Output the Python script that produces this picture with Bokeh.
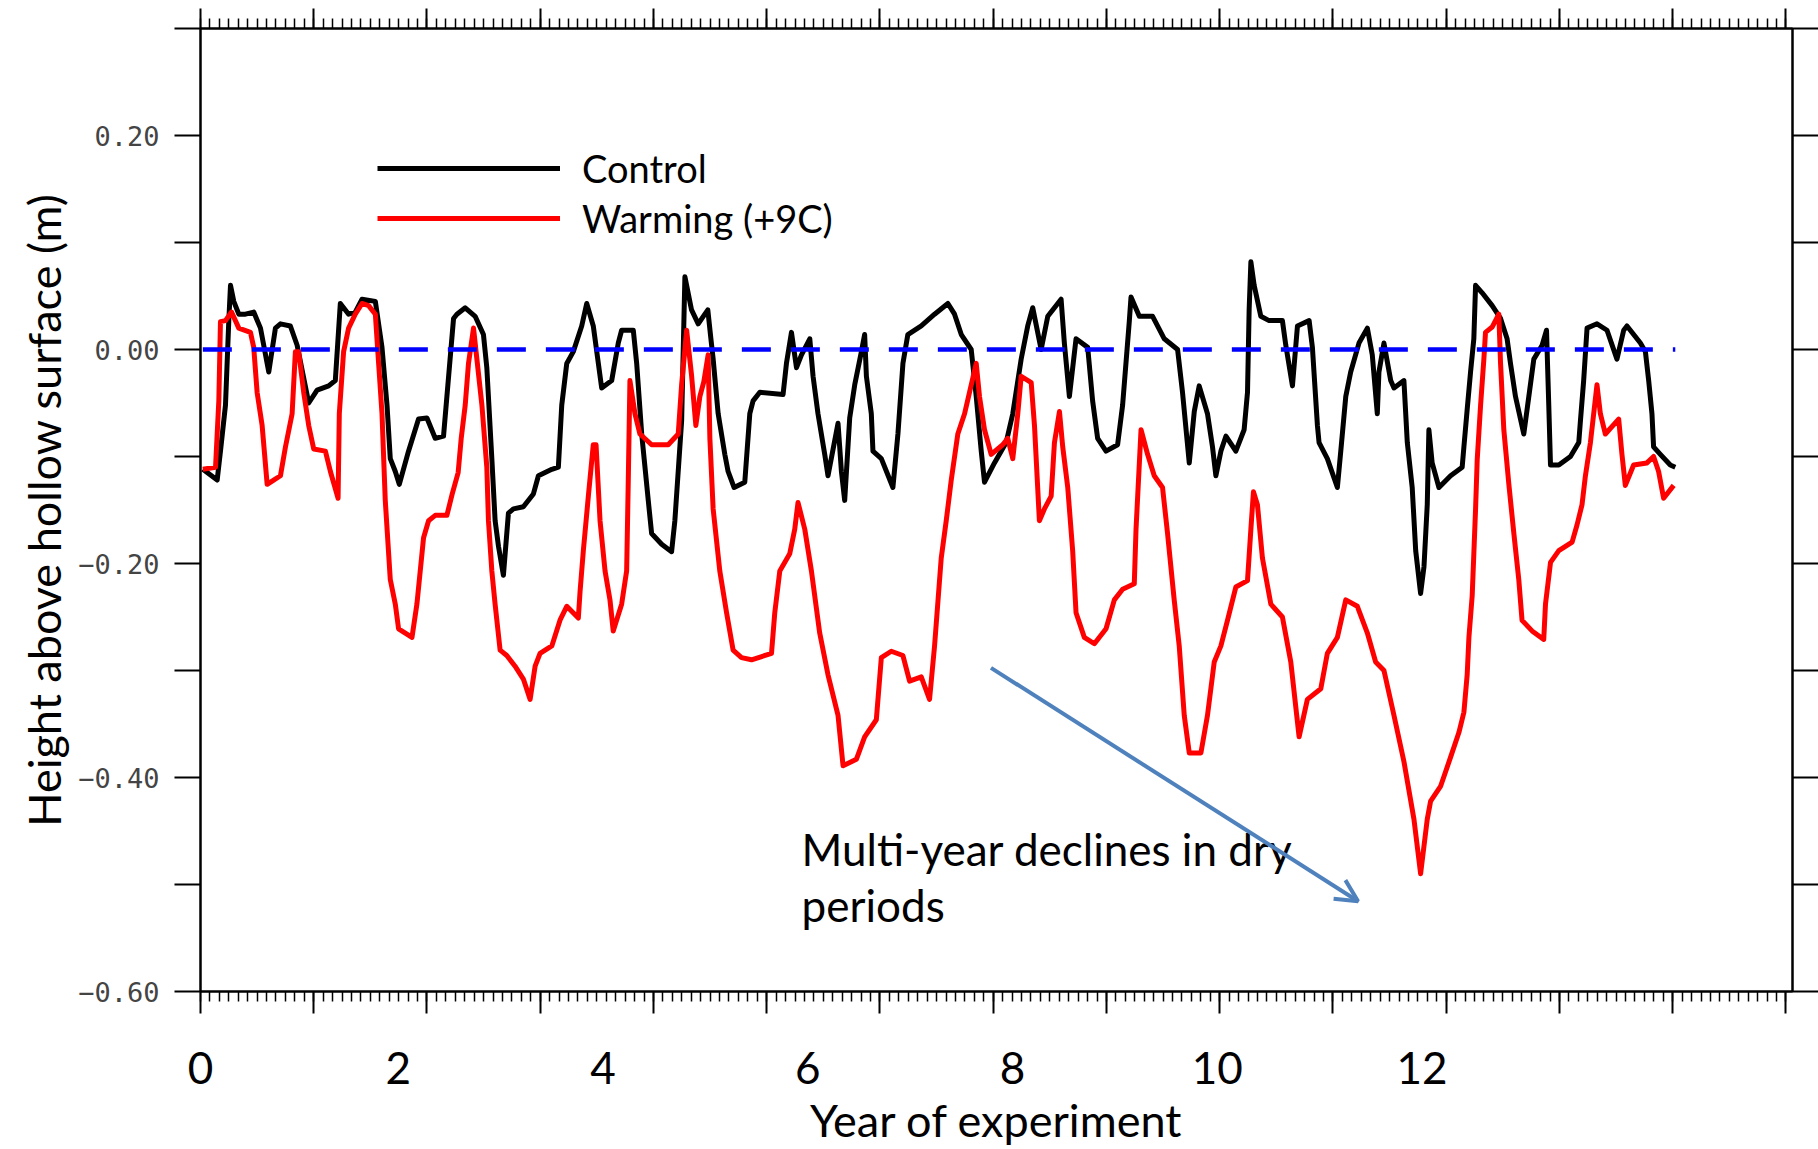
from bokeh.plotting import figure
from bokeh.models import (Range1d, FixedTicker, LinearAxis, Legend, LegendItem,
                          Label, Arrow, OpenHead, CustomJSTickFormatter,
                          CustomLabelingPolicy)
from bokeh.embed import file_html
from bokeh.resources import INLINE

# ---------------- data ----------------
control_year = [0.091, 0.231, 0.263, 0.312, 0.344, 0.361, 0.393, 0.442, 0.507, 0.588,
    0.654, 0.735, 0.800, 0.849, 0.946, 1.012, 1.125, 1.207, 1.320, 1.385,
    1.434, 1.515, 1.580, 1.646, 1.776, 1.841, 1.890, 1.922, 1.971, 2.010,
    2.100, 2.198, 2.280, 2.361, 2.442, 2.475, 2.540, 2.573, 2.654, 2.751,
    2.832, 2.865, 2.914, 2.946, 2.979, 3.027, 3.076, 3.125, 3.222, 3.320,
    3.369, 3.500, 3.564, 3.597, 3.646, 3.710, 3.792, 3.841, 3.905, 3.987,
    4.085, 4.149, 4.182, 4.296, 4.329, 4.378, 4.442, 4.475, 4.573, 4.670,
    4.702, 4.768, 4.800, 4.865, 4.930, 4.995, 5.024, 5.054, 5.076, 5.125,
    5.190, 5.222, 5.281, 5.385, 5.434, 5.466, 5.532, 5.759, 5.792, 5.841,
    5.890, 5.939, 6.020, 6.052, 6.100, 6.166, 6.198, 6.296, 6.329, 6.361,
    6.410, 6.459, 6.524, 6.556, 6.573, 6.621, 6.637, 6.719, 6.832, 6.881,
    6.930, 6.978, 7.109, 7.239, 7.369, 7.434, 7.500, 7.597, 7.646, 7.695,
    7.727, 7.824, 7.938, 8.003, 8.085, 8.149, 8.198, 8.280, 8.345, 8.475,
    8.507, 8.556, 8.621, 8.735, 8.783, 8.832, 8.914, 9.027, 9.076, 9.141,
    9.158, 9.239, 9.369, 9.483, 9.613, 9.661, 9.727, 9.776, 9.824, 9.905,
    9.954, 9.987, 10.036, 10.085, 10.182, 10.263, 10.296, 10.312, 10.329, 10.361,
    10.426, 10.507, 10.637, 10.670, 10.735, 10.784, 10.898, 10.930, 10.979, 10.995,
    11.076, 11.174, 11.207, 11.256, 11.304, 11.385, 11.467, 11.515, 11.564, 11.580,
    11.629, 11.695, 11.727, 11.824, 11.857, 11.905, 11.939, 11.987, 12.020, 12.052,
    12.068, 12.100, 12.166, 12.280, 12.393, 12.410, 12.442, 12.475, 12.507, 12.524,
    12.588, 12.686, 12.768, 12.832, 12.865, 12.914, 12.995, 13.044, 13.093, 13.174,
    13.217, 13.239, 13.256, 13.337, 13.451, 13.532, 13.548, 13.580, 13.613, 13.710,
    13.808, 13.905, 13.971, 14.003, 14.134, 14.183, 14.215, 14.247, 14.263, 14.329,
    14.426, 14.475]

control_height = [-0.112, -0.122, -0.095, -0.052, 0.026, 0.060, 0.045, 0.033, 0.033, 0.035,
    0.020, -0.021, 0.020, 0.024, 0.022, 0.004, -0.050, -0.038, -0.034, -0.029,
    0.043, 0.033, 0.035, 0.047, 0.045, 0.002, -0.052, -0.102, -0.114, -0.126,
    -0.095, -0.065, -0.064, -0.083, -0.081, -0.044, 0.029, 0.033, 0.039, 0.031,
    0.014, -0.017, -0.102, -0.160, -0.184, -0.211, -0.153, -0.149, -0.147, -0.135,
    -0.118, -0.112, -0.110, -0.052, -0.013, -0.002, 0.022, 0.043, 0.022, -0.036,
    -0.029, 0.006, 0.018, 0.018, -0.013, -0.079, -0.141, -0.172, -0.182, -0.189,
    -0.160, -0.067, 0.068, 0.037, 0.024, 0.033, 0.037, 0.010, -0.009, -0.060,
    -0.098, -0.114, -0.129, -0.124, -0.060, -0.048, -0.040, -0.042, -0.013, 0.016,
    -0.017, -0.005, 0.010, -0.025, -0.060, -0.098, -0.118, -0.069, -0.114, -0.141,
    -0.064, -0.033, -0.002, 0.014, -0.025, -0.060, -0.095, -0.102, -0.129, -0.079,
    -0.013, 0.014, 0.022, 0.033, 0.043, 0.033, 0.014, 0.000, -0.044, -0.095,
    -0.124, -0.106, -0.087, -0.060, -0.009, 0.022, 0.039, 0.000, 0.031, 0.047,
    0.006, -0.044, 0.010, 0.002, -0.048, -0.083, -0.095, -0.089, -0.052, 0.026,
    0.049, 0.031, 0.031, 0.010, 0.000, -0.040, -0.106, -0.058, -0.034, -0.060,
    -0.091, -0.118, -0.095, -0.081, -0.095, -0.075, -0.040, 0.037, 0.082, 0.060,
    0.031, 0.027, 0.027, 0.004, -0.034, 0.022, 0.027, 0.002, -0.071, -0.087,
    -0.102, -0.129, -0.095, -0.044, -0.021, 0.006, 0.020, -0.005, -0.060, -0.021,
    0.006, -0.029, -0.036, -0.029, -0.087, -0.129, -0.188, -0.228, -0.203, -0.145,
    -0.075, -0.106, -0.129, -0.118, -0.110, -0.091, -0.056, -0.021, 0.010, 0.060,
    0.053, 0.041, 0.029, 0.010, -0.013, -0.044, -0.079, -0.044, -0.009, 0.004,
    0.018, -0.052, -0.108, -0.108, -0.100, -0.087, -0.067, -0.029, 0.020, 0.024,
    0.018, -0.009, 0.018, 0.022, 0.006, -0.002, -0.029, -0.060, -0.091, -0.098,
    -0.108, -0.110]

warming_year = [0.091, 0.215, 0.247, 0.263, 0.312, 0.371, 0.442, 0.556, 0.588, 0.621,
    0.670, 0.719, 0.783, 0.849, 0.898, 0.963, 0.995, 1.027, 1.076, 1.125,
    1.174, 1.288, 1.337, 1.412, 1.424, 1.466, 1.515, 1.580, 1.646, 1.710,
    1.776, 1.808, 1.841, 1.873, 1.922, 1.971, 2.003, 2.134, 2.182, 2.247,
    2.296, 2.361, 2.475, 2.527, 2.585, 2.615, 2.654, 2.686, 2.735, 2.768,
    2.817, 2.865, 2.881, 2.914, 2.946, 2.995, 3.060, 3.141, 3.222, 3.288,
    3.337, 3.385, 3.500, 3.580, 3.646, 3.759, 3.776, 3.808, 3.857, 3.905,
    3.932, 3.971, 4.020, 4.068, 4.100, 4.182, 4.231, 4.247, 4.263, 4.312,
    4.361, 4.475, 4.637, 4.735, 4.768, 4.817, 4.865, 4.907, 4.946, 4.985,
    5.027, 5.044, 5.076, 5.141, 5.207, 5.271, 5.353, 5.451, 5.646, 5.678,
    5.727, 5.824, 5.873, 5.905, 5.971, 6.036, 6.117, 6.198, 6.296, 6.345,
    6.475, 6.556, 6.670, 6.719, 6.816, 6.930, 6.995, 7.109, 7.190, 7.239,
    7.304, 7.353, 7.402, 7.466, 7.532, 7.646, 7.678, 7.727, 7.792, 7.905,
    7.954, 8.003, 8.052, 8.085, 8.183, 8.215, 8.263, 8.312, 8.378, 8.410,
    8.459, 8.491, 8.540, 8.588, 8.621, 8.702, 8.800, 8.914, 8.995, 9.076,
    9.190, 9.207, 9.256, 9.320, 9.385, 9.466, 9.515, 9.580, 9.629, 9.678,
    9.727, 9.841, 9.905, 9.971, 10.036, 10.101, 10.182, 10.296, 10.329, 10.354,
    10.393, 10.442, 10.524, 10.637, 10.719, 10.800, 10.881, 11.012, 11.076, 11.174,
    11.256, 11.369, 11.467, 11.548, 11.629, 11.727, 11.824, 11.922, 11.987, 12.052,
    12.085, 12.183, 12.280, 12.361, 12.410, 12.442, 12.459, 12.491, 12.507, 12.524,
    12.540, 12.573, 12.605, 12.621, 12.686, 12.751, 12.768, 12.800, 12.849, 12.898,
    12.946, 12.978, 13.076, 13.190, 13.207, 13.256, 13.337, 13.467, 13.515, 13.564,
    13.597, 13.646, 13.710, 13.743, 13.792, 13.922, 13.954, 13.987, 14.068, 14.198,
    14.263, 14.312, 14.361, 14.459]

warming_height = [-0.112, -0.110, -0.048, 0.026, 0.027, 0.035, 0.020, 0.016, 0.002, -0.040,
    -0.071, -0.126, -0.122, -0.118, -0.091, -0.060, -0.002, -0.002, -0.040, -0.071,
    -0.093, -0.095, -0.114, -0.139, -0.060, -0.002, 0.020, 0.033, 0.043, 0.041,
    0.033, -0.013, -0.060, -0.141, -0.215, -0.238, -0.261, -0.269, -0.238, -0.176,
    -0.160, -0.155, -0.155, -0.135, -0.115, -0.083, -0.052, -0.013, 0.020, -0.009,
    -0.052, -0.110, -0.160, -0.207, -0.238, -0.281, -0.286, -0.296, -0.308, -0.327,
    -0.296, -0.284, -0.277, -0.253, -0.240, -0.251, -0.226, -0.188, -0.137, -0.089,
    -0.089, -0.160, -0.207, -0.234, -0.263, -0.238, -0.207, -0.122, -0.029, -0.060,
    -0.079, -0.089, -0.089, -0.079, -0.033, 0.018, -0.024, -0.071, -0.044, -0.030,
    -0.005, -0.083, -0.149, -0.207, -0.246, -0.281, -0.288, -0.290, -0.284, -0.246,
    -0.207, -0.191, -0.168, -0.143, -0.168, -0.207, -0.265, -0.304, -0.342, -0.389,
    -0.383, -0.362, -0.346, -0.288, -0.282, -0.286, -0.310, -0.306, -0.327, -0.277,
    -0.195, -0.160, -0.122, -0.079, -0.060, -0.013, -0.044, -0.075, -0.098, -0.089,
    -0.083, -0.102, -0.060, -0.025, -0.031, -0.071, -0.160, -0.149, -0.137, -0.087,
    -0.058, -0.091, -0.129, -0.188, -0.246, -0.269, -0.275, -0.261, -0.234, -0.224,
    -0.219, -0.168, -0.075, -0.098, -0.118, -0.129, -0.172, -0.234, -0.277, -0.342,
    -0.377, -0.377, -0.342, -0.292, -0.277, -0.253, -0.222, -0.216, -0.168, -0.133,
    -0.145, -0.195, -0.238, -0.250, -0.292, -0.362, -0.327, -0.317, -0.284, -0.269,
    -0.234, -0.240, -0.265, -0.292, -0.300, -0.342, -0.385, -0.439, -0.490, -0.439,
    -0.422, -0.408, -0.381, -0.358, -0.339, -0.304, -0.269, -0.230, -0.191, -0.149,
    -0.103, -0.052, -0.009, 0.016, 0.021, 0.033, -0.013, -0.075, -0.126, -0.172,
    -0.215, -0.253, -0.263, -0.271, -0.238, -0.199, -0.188, -0.180, -0.164, -0.145,
    -0.118, -0.087, -0.033, -0.060, -0.079, -0.065, -0.098, -0.127, -0.108, -0.106,
    -0.100, -0.114, -0.139, -0.127]

year_labels = [0, 2, 4, 6, 8, 10, 12]
height_major = [-0.6, -0.4, -0.2, 0.0, 0.2]
height_minor = [-0.5, -0.3, -0.1, 0.1, 0.3]

# ---------------- layout constants ----------------
X_START, X_END = 0.068, 15.62
Y_START, Y_END = -0.6, 0.3
TICK_PERIOD = 1.1063          # spacing of the original plot's major tick marks
FONT = "Lato"

frame_ticks = [X_START + k * TICK_PERIOD for k in range(15)]
frame_minor = [X_START + k * TICK_PERIOD / 12 for k in range(14 * 12 + 1)]
# the "0" label sits on the left edge of the frame
label_ticks = [max(v, X_START) for v in year_labels]

no_labels = CustomLabelingPolicy(code="for (const i of indices) { indices.unset(i) } return indices")

p = figure(width=1818, height=1149, x_range=Range1d(X_START, X_END),
           y_range=Range1d(Y_START, Y_END), output_backend="svg",
           toolbar_location=None, min_border_left=200, min_border_right=24,
           min_border_top=28, min_border_bottom=156,
           background_fill_color="white", border_fill_color="white")
p.grid.visible = False
p.outline_line_color = "black"
p.outline_line_width = 2


def tick_only(axis, out_major, out_minor, minor_w):
    axis.major_tick_out = out_major
    axis.major_tick_in = 0
    axis.minor_tick_out = out_minor
    axis.minor_tick_in = 0
    axis.major_tick_line_width = 2
    axis.minor_tick_line_width = minor_w
    axis.axis_line_width = 2
    axis.major_label_text_font_size = "0px"
    axis.major_label_standoff = 0
    axis.major_label_policy = no_labels


# bottom tick-mark axis (no labels)
xa = p.xaxis[0]
xa.ticker = FixedTicker(ticks=frame_ticks, minor_ticks=frame_minor)
tick_only(xa, 22, 10, 1.5)

# bottom label axis
la = LinearAxis(ticker=FixedTicker(ticks=label_ticks, minor_ticks=[]),
                formatter=CustomJSTickFormatter(code="return Math.round(tick).toString()"),
                axis_label="Year of experiment")
la.axis_line_color = None
la.major_tick_line_color = None
la.minor_tick_line_color = None
la.major_tick_out = 0
la.minor_tick_out = 0
la.major_label_text_font = FONT
la.major_label_text_font_size = "44px"
la.major_label_text_color = "black"
la.major_label_standoff = 38
la.axis_label_text_font = FONT
la.axis_label_text_font_size = "45px"
la.axis_label_text_font_style = "normal"
la.axis_label_text_color = "black"
la.axis_label_standoff = 6
p.add_layout(la, "below")

# top tick axis
ta = LinearAxis(ticker=FixedTicker(ticks=frame_ticks, minor_ticks=frame_minor))
tick_only(ta, 20, 10, 1.5)
p.add_layout(ta, "above")

# left axis
ya = p.yaxis[0]
ya.ticker = FixedTicker(ticks=height_major, minor_ticks=height_minor)
ya.formatter = CustomJSTickFormatter(code="""
    const v = Math.abs(tick) < 1e-9 ? 0 : tick;
    return (v < 0 ? "\u2212" : "") + Math.abs(v).toFixed(2);
""")
ya.major_tick_out = 26
ya.major_tick_in = 0
ya.minor_tick_out = 26
ya.minor_tick_in = 0
ya.major_tick_line_width = 2
ya.minor_tick_line_width = 2
ya.axis_line_width = 2
ya.major_label_text_font = "DejaVu Sans Mono"
ya.major_label_text_font_size = "27px"
ya.major_label_text_color = "#444444"
ya.major_label_standoff = 15
ya.axis_label = "Height above hollow surface (m)"
ya.axis_label_text_font = FONT
ya.axis_label_text_font_size = "45px"
ya.axis_label_text_font_style = "normal"
ya.axis_label_text_color = "black"
ya.axis_label_standoff = 4

# right axis
ra = LinearAxis(ticker=FixedTicker(ticks=height_major, minor_ticks=height_minor))
tick_only(ra, 26, 26, 2)
p.add_layout(ra, "right")

# ---------------- series ----------------
r_ctrl = p.line(control_year, control_height, line_color="black", line_width=5,
                line_join="round")
r_warm = p.line(warming_year, warming_height, line_color="#ff0000", line_width=5,
                line_join="round")
p.line([control_year[0], control_year[-1]], [0, 0], line_color="#0000ff",
       line_width=4.5, line_dash="29 20")

legend = Legend(items=[LegendItem(label="Control", renderers=[r_ctrl]),
                       LegendItem(label="Warming (+9C)", renderers=[r_warm])],
                location=(177, 750), orientation="vertical",
                glyph_width=183, glyph_height=46, label_height=46, spacing=4,
                padding=0, margin=0, label_standoff=22,
                label_text_font=FONT, label_text_font_size="38px",
                label_text_color="black",
                border_line_alpha=0, background_fill_alpha=0)
p.add_layout(legend)

# ---------------- annotation ----------------
p.add_layout(Label(x=5.94, y=-0.467, text="Multi-year declines in dry",
                   text_font=FONT, text_font_size="44px", text_color="black",
                   text_baseline="alphabetic"))
p.add_layout(Label(x=5.94, y=-0.519, text="periods",
                   text_font=FONT, text_font_size="44px", text_color="black",
                   text_baseline="alphabetic"))
p.add_layout(Arrow(end=OpenHead(size=22, line_color="#4f81bd", line_width=4),
                   x_start=7.79, y_start=-0.2975, x_end=11.376, y_end=-0.5156,
                   line_color="#4f81bd", line_width=4))

open("out.html", "w").write(file_html(p, INLINE))
